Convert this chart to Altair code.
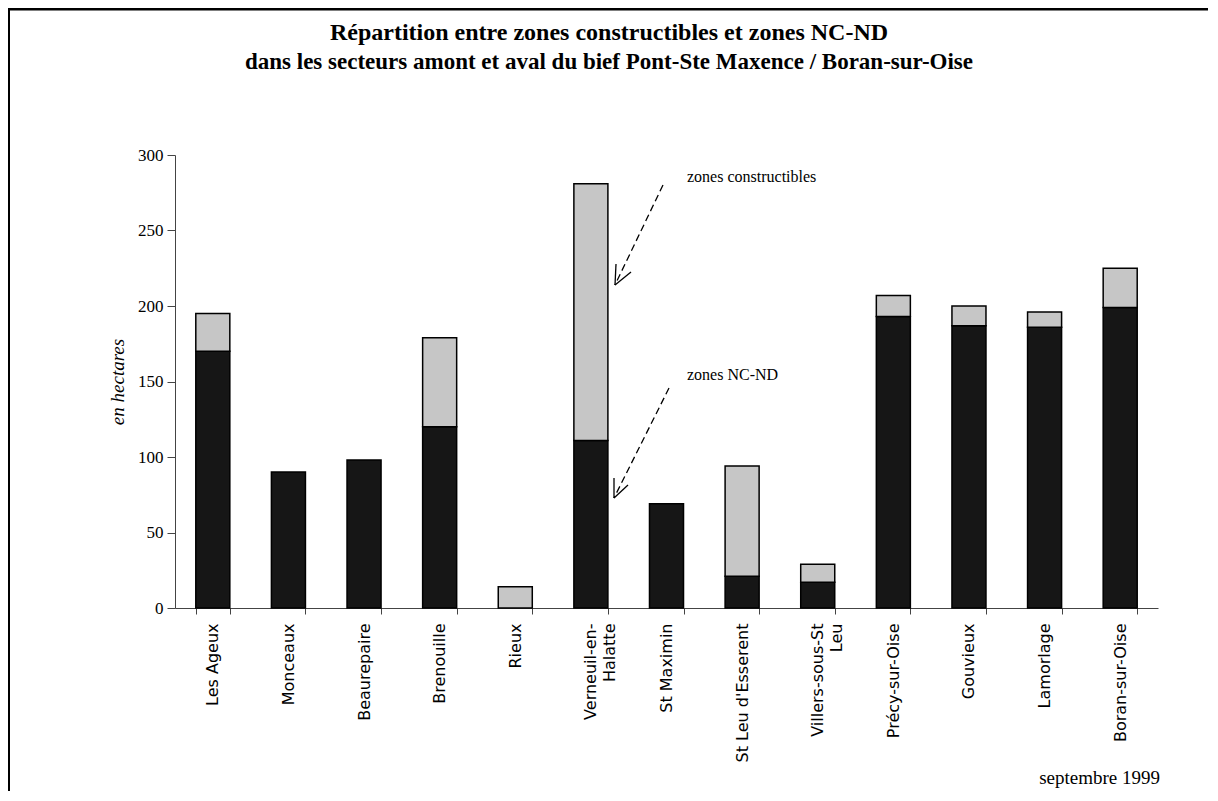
import altair as alt
import pandas as pd

communes = ["Les Ageux", "Monceaux", "Beaurepaire", "Brenouille", "Rieux",
            "Verneuil-en-\nHalatte", "St Maximin", "St Leu d'Esserent",
            "Villers-sous-St\nLeu", "Précy-sur-Oise", "Gouvieux", "Lamorlage",
            "Boran-sur-Oise"]
nc_nd = [170, 90, 98, 120, 0, 111, 69, 21, 17, 193, 187, 186, 199]
constructibles = [25, 0, 0, 59, 14, 170, 0, 73, 12, 14, 13, 10, 26]
zones = ["zones NC-ND", "zones constructibles"]
y_ticks = [0, 50, 100, 150, 200, 250, 300]
title_lines = ["Répartition entre zones constructibles et zones NC-ND",
               "dans les secteurs amont et aval du bief Pont-Ste Maxence / Boran-sur-Oise"]
y_title = "en hectares"
date_note = "septembre 1999"

rows = []
for c, a, b in zip(communes, nc_nd, constructibles):
    if a > 0:
        rows.append({"commune": c, "zone": zones[0], "valeur": a, "ordre": 0})
    if b > 0:
        rows.append({"commune": c, "zone": zones[1], "valeur": b, "ordre": 1})
df = pd.DataFrame(rows)
one = pd.DataFrame({"k": [0]})

SERIF = "Liberation Serif"
SANS = "DejaVu Sans"

bars = alt.Chart(df).mark_bar(stroke="black", strokeWidth=1.5).encode(
    x=alt.X("commune:N", sort=communes,
            scale=alt.Scale(paddingInner=0.55, paddingOuter=0.275),
            axis=alt.Axis(title=None, labelAngle=270, tickBand="extent",
                          tickSize=6, labelPadding=9, labelFont=SANS,
                          labelFontSize=16, labelLineHeight=19,
                          labelExpr="split(datum.label, '\\n')",
                          labelColor="black", domainColor="#444",
                          tickColor="#444", labelLimit=250)),
    y=alt.Y("valeur:Q", stack="zero", scale=alt.Scale(domain=[0, 300]),
            axis=alt.Axis(values=y_ticks, title=y_title, grid=False,
                          tickSize=8, labelFont=SERIF, labelFontSize=17,
                          labelColor="black", labelPadding=4,
                          domainColor="#444", tickColor="#444",
                          titleFont=SERIF, titleFontSize=19,
                          titleFontStyle="italic", titleFontWeight="normal",
                          titleColor="black", titlePadding=10)),
    color=alt.Color("zone:N", scale=alt.Scale(domain=zones,
                                              range=["#161616", "#c6c6c6"]),
                    legend=None),
    order=alt.Order("ordre:Q"),
)

def seg(x1, y1, x2, y2, dash=None, w=1.3):
    kw = dict(color="black", strokeWidth=w)
    if dash:
        kw["strokeDash"] = dash
    return alt.Chart(one).mark_rule(**kw).encode(
        x=alt.value(x1), y=alt.value(y1), x2=alt.value(x2), y2=alt.value(y2))

arrows = [
    seg(488, 30, 440, 130, dash=[7, 4]),
    seg(440, 130, 441, 109),
    seg(440, 130, 456, 117),
    seg(494, 233, 439, 343, dash=[7, 4]),
    seg(439, 343, 439, 323),
    seg(439, 343, 453, 330),
]

def label(txt, x, y, align="left", size=14, weight="normal"):
    return alt.Chart(one).mark_text(align=align, baseline="middle", font=SERIF,
                                    fontSize=size, fontWeight=weight,
                                    color="black").encode(
        x=alt.value(x), y=alt.value(y), text=alt.value(txt))

texts = [
    label(zones[1], 512, 22, size=16),
    label(zones[0], 512, 220, size=16),
    label(date_note, 985, 623, align="right", size=19),
    label(title_lines[0], 434, -122, align="center", size=24, weight="bold"),
    label(title_lines[1], 434, -93, align="center", size=23, weight="bold"),
]

border = [
    seg(-167, -146, 1040, -146, w=3),
    seg(-166, -146, -166, 640, w=2),
]

chart = alt.layer(bars, *arrows, *texts, *border).properties(
    width=983, height=453,
    autosize=alt.AutoSizeParams(type="none"),
    padding={"left": 167, "top": 147, "right": 50, "bottom": 183},
    background="white",
).configure_view(stroke=None)

chart.save("out.html", embed_options={"renderer": "svg", "actions": False})
